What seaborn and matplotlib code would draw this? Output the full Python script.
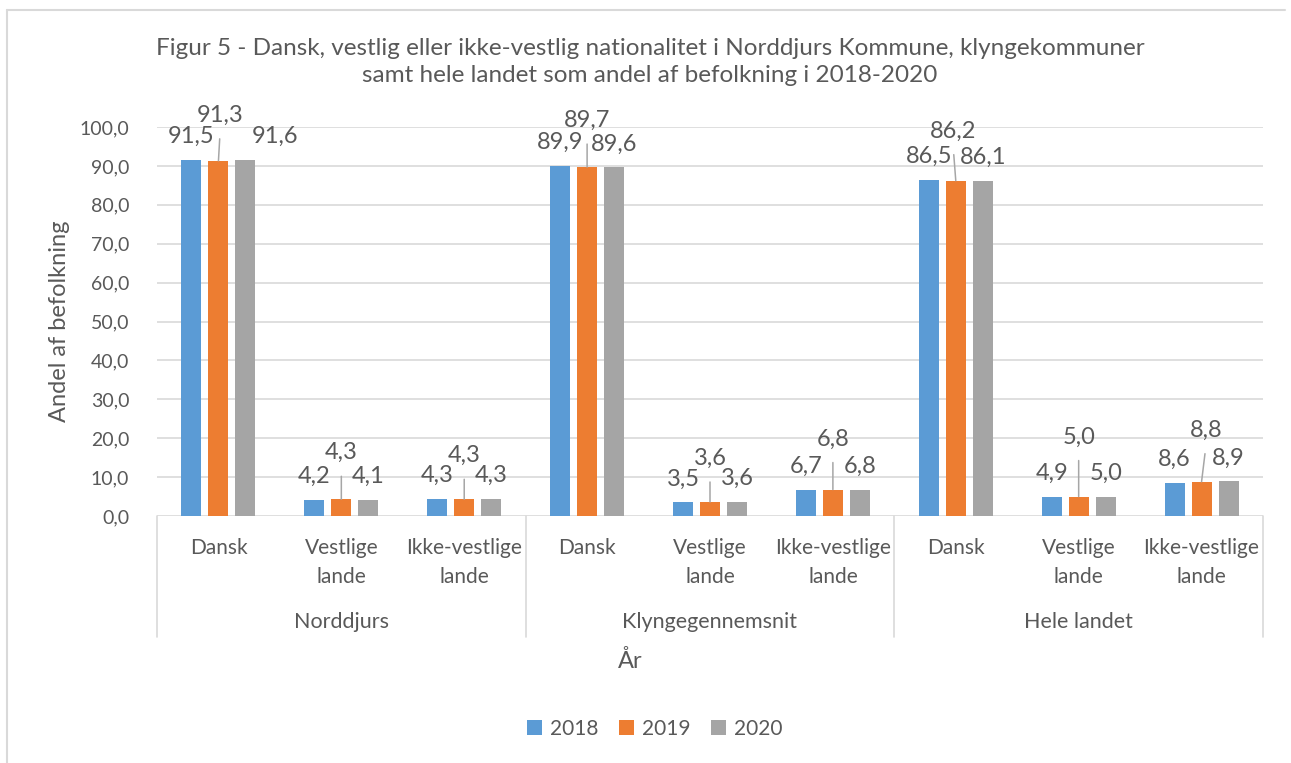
import numpy as np
import pandas as pd
import seaborn as sns
import matplotlib.pyplot as plt
import matplotlib.transforms as mtransforms
from matplotlib.lines import Line2D
from matplotlib.patches import Patch

# Data
groups = ["Norddjurs", "Klyngegennemsnit", "Hele landet"]
categories = ["Dansk", "Vestlige\nlande", "Ikke-vestlige\nlande"]
years = ["2018", "2019", "2020"]
values_2018 = [91.5, 4.2, 4.3, 89.9, 3.5, 6.7, 86.5, 4.9, 8.6]
values_2019 = [91.3, 4.3, 4.3, 89.7, 3.6, 6.8, 86.2, 5.0, 8.8]
values_2020 = [91.6, 4.1, 4.3, 89.6, 3.6, 6.8, 86.1, 5.0, 8.9]

colors = ["#5B9BD5", "#ED7D31", "#A5A5A5"]
text_color = "#595959"
grid_color = "#D9D9D9"

# label offsets in pixels (dx, baseline above bar top), styling only
orange_offsets = [(2, 39), (0, 40), (0, 37), (0, 40), (0, 37), (0, 44), (-3, 43), (0, 53), (5, 45)]
gray_dx = [30, 0, 0, 0, 0, 0, 0, 0, 0]

# long-form table for seaborn
slots = [f"{g}|{c}" for g in groups for c in categories]
rows = []
for year, vals in zip(years, [values_2018, values_2019, values_2020]):
    for slot, v in zip(slots, vals):
        rows.append({"slot": slot, "year": year, "value": v})
df = pd.DataFrame(rows)

sns.set_theme(style="white")
plt.rcParams["font.family"] = ["Lato", "DejaVu Sans"]

W, H = 1291, 763
fig = plt.figure(figsize=(W / 100, H / 100), dpi=100)
ax = fig.add_axes([157 / W, (H - 516) / H, (1263 - 157) / W, (516 - 127) / H])

sns.barplot(data=df, x="slot", y="value", hue="year", order=slots, hue_order=years,
            palette=colors, saturation=1, width=0.66, gap=0.26, ax=ax, legend=False,
            edgecolor="none", linewidth=0)

ax.set_ylim(0, 100)
ax.set_xlim(-0.5, len(slots) - 0.5)
ax.set_yticks(np.arange(0, 101, 10))
ax.set_yticklabels([f"{t:.1f}".replace(".", ",") for t in np.arange(0, 101, 10)])
ax.yaxis.grid(True, color=grid_color, linewidth=1.2)
ax.set_axisbelow(True)
for s in ax.spines.values():
    s.set_visible(False)
ax.tick_params(axis="y", length=0, pad=20, labelsize=14, labelcolor=text_color)
ax.tick_params(axis="x", length=0, pad=16, labelsize=15, labelcolor=text_color)
ax.set_xticks(range(len(slots)))
ax.set_xticklabels(categories * len(groups), linespacing=1.55)
for lbl in ax.get_xticklabels():
    lbl.set_verticalalignment("top")
ax.set_xlabel("")
ax.set_ylabel("")

# data labels
for i, cont in enumerate(ax.containers):
    for j, bar in enumerate(cont):
        x = bar.get_x() + bar.get_width() / 2
        top = bar.get_height()
        txt = f"{top:.1f}".replace(".", ",")
        if i == 1:
            dx, dy = orange_offsets[j]
            ax.annotate(txt, xy=(x, top), xytext=(dx, dy), textcoords="offset pixels",
                        ha="center", va="baseline", fontsize=17, color=text_color,
                        annotation_clip=False,
                        arrowprops=dict(arrowstyle="-", color="#A6A6A6", lw=1.1,
                                        shrinkA=7, shrinkB=0, relpos=(0.5, 0)))
        else:
            dx = gray_dx[j] if i == 2 else 0
            ax.annotate(txt, xy=(x, top), xytext=(dx, 17), textcoords="offset pixels",
                        ha="center", va="baseline", fontsize=17, color=text_color,
                        annotation_clip=False)

# group labels and separators below the axis
blend = mtransforms.blended_transform_factory(ax.transData, fig.transFigure)
for k, g in enumerate(groups):
    ax.text(3 * k + 1, (H - 622) / H, g, transform=blend, ha="center", va="center",
            fontsize=15.5, color=text_color)
for xb in [-0.5, 2.5, 5.5, 8.5]:
    ax.add_line(Line2D([xb, xb], [(H - 516) / H, (H - 637) / H], transform=blend,
                       color=grid_color, lw=1.2, clip_on=False))

# titles
fig.text(650 / W, (H - 62) / H,
         "Figur 5 - Dansk, vestlig eller ikke-vestlig nationalitet i Norddjurs Kommune, klyngekommuner\n"
         "samt hele landet som andel af befolkning i 2018-2020",
         ha="center", va="center", fontsize=17.5, color=text_color, linespacing=1.3)
fig.text(60 / W, (H - 321) / H, "Andel af befolkning", rotation=90, ha="center", va="center",
         fontsize=17, color=text_color)
fig.text(630 / W, (H - 661) / H, "År", ha="center", va="center", fontsize=17, color=text_color)

# legend
handles = [Patch(facecolor=c, edgecolor="none", label=y) for c, y in zip(colors, years)]
fig.legend(handles=handles, loc="center", bbox_to_anchor=(655 / W, (H - 729) / H), ncol=3,
           frameon=False, fontsize=15, handlelength=0.7, handleheight=0.7,
           handletextpad=0.4, columnspacing=1.0, labelcolor=text_color)

# chart border
fig.add_artist(Line2D([7 / W, 7 / W], [0, (H - 10) / H], transform=fig.transFigure,
                      color=grid_color, lw=1.5))
fig.add_artist(Line2D([7 / W, 1 - 6 / W], [(H - 10) / H, (H - 10) / H], transform=fig.transFigure,
                      color=grid_color, lw=1.5))

fig.savefig("out.png", dpi=100)
